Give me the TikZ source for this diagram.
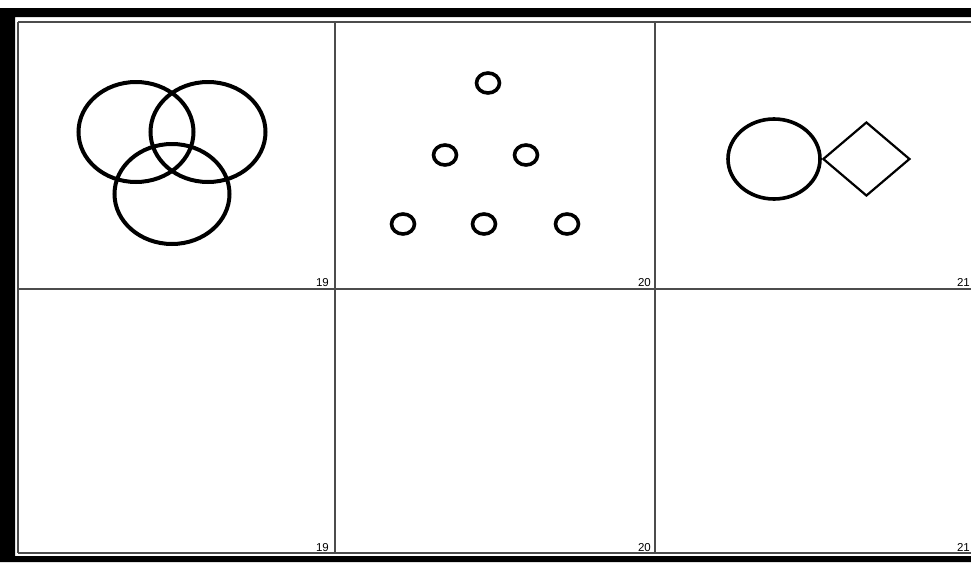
\documentclass[tikz,border=0pt]{standalone}
\usepackage{fontspec}
\setsansfont{Liberation Sans}
\usetikzlibrary{shapes.geometric,positioning}
\tikzset{
  grid_line/.style={draw=black!70,line width=1.1pt},
  venn_ring/.style={draw,ellipse,line width=4pt,minimum width=115pt,minimum height=100pt,inner sep=0pt},
  dot_ring/.style={draw,ellipse,line width=3.6pt,minimum width=23pt,minimum height=20pt,inner sep=0pt},
  oval_box/.style={draw,ellipse,line width=3.6pt,minimum width=92pt,minimum height=80pt,inner sep=0pt},
  kite_box/.style={draw,diamond,line width=2.2pt,minimum width=87pt,minimum height=74pt,inner sep=0pt},
  panel_num/.style={font=\sffamily\fontsize{11.5}{13}\selectfont,anchor=base east,inner sep=0pt},
}

\begin{document}
\begin{tikzpicture}[x=1pt,y=-1pt]
    \useasboundingbox (0,0) rectangle (971,562);
    \fill[white] (0,0) rectangle (971,562);
    % heavy frame round the sheet
    \fill[black,even odd rule] (0,8) rectangle (971,562) (15,17) rectangle (971,556);

    % panel grid
    \draw[grid_line] (18,22) -- (971,22);
    \draw[grid_line] (18,289) -- (971,289);
    \draw[grid_line] (18,553) -- (971,553);
    \draw[grid_line] (18,22) -- (18,553);
    \draw[grid_line] (335,22) -- (335,553);
    \draw[grid_line] (655,22) -- (655,553);

    % panel 19: three rings
    \node[venn_ring] (ring_l) at (136,132) {};
    \node[venn_ring] (ring_r) at (208,132) {};
    \node[venn_ring] (ring_b) at (172,194) {};

    % panel 20: six small rings
    \node[dot_ring] (dot_a) at (488,83) {};
    \node[dot_ring] (dot_b) at (445,155) {};
    \node[dot_ring] (dot_c) at (526,155) {};
    \node[dot_ring] (dot_d) at (403,224) {};
    \node[dot_ring] (dot_e) at (484,224) {};
    \node[dot_ring] (dot_f) at (567,224) {};

    % panel 21: oval and diamond
    \node[oval_box] (oval) at (774,159) {};
    \node[kite_box,right=0pt of oval] (kite) {};

    % panel numbers
    \node[panel_num] (n19a) at (329,286) {19};
    \node[panel_num] (n20a) at (651,286) {20};
    \node[panel_num] (n21a) at (970,286) {21};
    \node[panel_num] (n19b) at (329,551) {19};
    \node[panel_num] (n20b) at (651,551) {20};
    \node[panel_num] (n21b) at (970,551) {21};
  \end{tikzpicture}
\end{document}
